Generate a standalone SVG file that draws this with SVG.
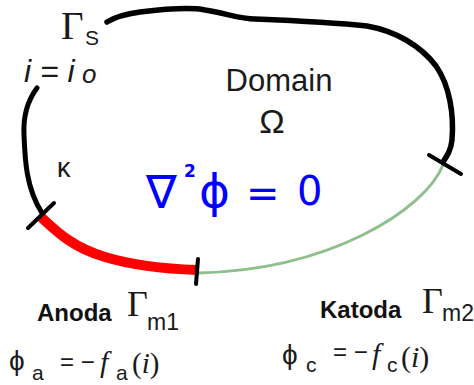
<svg xmlns="http://www.w3.org/2000/svg" width="474" height="385" viewBox="0 0 474 385">
<style>
.sans{font-family:"Liberation Sans",Arial,sans-serif;fill:#1a1a1a}
.serif{font-family:"Liberation Serif","Times New Roman",serif;fill:#1a1a1a}
.b{stroke:#000;fill:none;stroke-linecap:round;stroke-linejoin:round}
.lab{font-family:"Liberation Sans",Arial,sans-serif;font-weight:bold;fill:#111}
.eq{font-family:"DejaVu Sans","Liberation Sans",sans-serif;fill:#0000ff}
</style>
<rect width="474" height="385" fill="#fff"/>
<g id="connectors">
<path id="boundary-s-left" class="b" stroke-width="5" d="M37,88 C28,100 23,115 24,135 C25,160 26,188 42,213"/>
<path id="boundary-s-top" class="b" stroke-width="5.5" d="M107,22 C115,17 125,14 140,12 C165,9 190,7 205,10 C225,13 240,19 255,19 C280,20 330,22 367,26 C395,31 420,45 436,66 C450,86 454,115 452,140 C451,150 447,156 443,162"/>
<path id="cathode" fill="none" stroke="#8dc08d" stroke-width="3" d="M443,165 C425,210 330,270 198,273"/>
<path id="anode" fill="none" stroke="#ff0000" stroke-width="10" d="M40,216 C60,235 75,248 105,257 C135,266 165,269 197,270"/>
<line class="b" stroke-width="4" x1="28" y1="228" x2="54" y2="203"/>
<line class="b" stroke-width="4" x1="429" y1="155" x2="461" y2="174"/>
<line class="b" stroke-width="4" x1="198" y1="259" x2="196" y2="284"/>
</g>
<g id="gamma-s">
<text class="serif" x="61" y="39" font-size="39">Γ</text>
<text class="sans" x="85" y="45" font-size="21">S</text>
<text class="sans" x="24" y="82" font-size="32" font-style="italic">i = i</text>
<text class="sans" x="82" y="83" font-size="26" font-style="italic">o</text>
</g>
<g id="domain">
<text class="sans" x="279" y="91" font-size="31" text-anchor="middle">Domain</text>
<text class="sans" x="272" y="133" font-size="34" text-anchor="middle">Ω</text>
</g>
<g id="kappa">
<text class="sans" x="57" y="177" font-size="27">κ</text>
</g>
<g id="equation">
<text class="eq" x="146" y="208" font-size="46">∇</text>
<text class="eq" x="184" y="177" font-size="17" font-weight="bold">2</text>
<text class="eq" x="199" y="207" font-size="47">ϕ</text>
<text class="eq" x="246" y="207" font-size="40">=</text>
<text class="eq" x="297" y="205" font-size="40">0</text>
</g>
<g id="anode-label">
<text class="lab" x="37" y="321" font-size="24">Anoda</text>
<text class="serif" x="127" y="316" font-size="36">Γ</text>
<text class="sans" x="147" y="330" font-size="23">m1</text>
<text class="sans" x="9" y="370" font-size="28">ϕ</text>
<text class="sans" x="32" y="380" font-size="21">a</text>
<text class="sans" x="60" y="370" font-size="24">= −</text>
<text class="serif" x="100" y="372" font-size="30" font-style="italic">f</text>
<text class="sans" x="116" y="380" font-size="21">a</text>
<text class="serif" x="132" y="373" font-size="29">(<tspan font-style="italic">i</tspan>)</text>
</g>
<g id="cathode-label">
<text class="lab" x="320" y="318" font-size="24">Katoda</text>
<text class="serif" x="422" y="313" font-size="36">Γ</text>
<text class="sans" x="442" y="321" font-size="23">m2</text>
<text class="sans" x="282" y="364" font-size="28">ϕ</text>
<text class="sans" x="306" y="372" font-size="21">c</text>
<text class="sans" x="333" y="360" font-size="24">= −</text>
<text class="serif" x="372" y="364" font-size="30" font-style="italic">f</text>
<text class="sans" x="387" y="372" font-size="21">c</text>
<text class="serif" x="401" y="367" font-size="30">(<tspan font-style="italic">i</tspan>)</text>
</g>
</svg>
